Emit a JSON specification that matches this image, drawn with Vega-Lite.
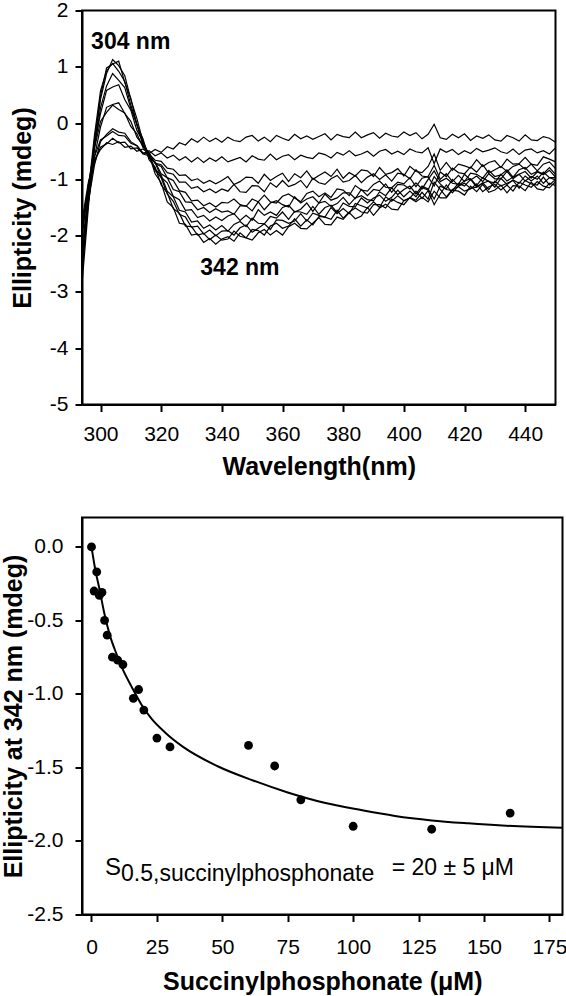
{
"$schema": "https://vega.github.io/schema/vega-lite/v6.json",
"background": "white",
"padding": {"left": 0, "top": -1.5, "right": 0, "bottom": 0},
"columns": 1,
"align": "each",
"spacing": 36,
"datasets": {
"spectra": [
{"s":"A","w":292,"e":-2.4},{"s":"A","w":294,"e":-1.7},{"s":"A","w":296,"e":-1.05},{"s":"A","w":298,"e":-0.65},{"s":"A","w":300,"e":-0.47},{"s":"A","w":302,"e":-0.35},{"s":"A","w":304,"e":-0.38},{"s":"A","w":306,"e":-0.33},{"s":"A","w":308,"e":-0.43},{"s":"A","w":310,"e":-0.41},{"s":"A","w":312,"e":-0.5},{"s":"A","w":314,"e":-0.46},{"s":"A","w":316,"e":-0.54},{"s":"A","w":318,"e":-0.47},{"s":"A","w":320,"e":-0.52},{"s":"A","w":322,"e":-0.42},{"s":"A","w":324,"e":-0.46},{"s":"A","w":326,"e":-0.35},{"s":"A","w":328,"e":-0.39},{"s":"A","w":330,"e":-0.28},{"s":"A","w":332,"e":-0.34},{"s":"A","w":334,"e":-0.25},{"s":"A","w":336,"e":-0.33},{"s":"A","w":338,"e":-0.27},{"s":"A","w":340,"e":-0.34},
{"s":"A","w":342,"e":-0.25},{"s":"A","w":344,"e":-0.31},{"s":"A","w":346,"e":-0.33},{"s":"A","w":348,"e":-0.25},{"s":"A","w":350,"e":-0.22},{"s":"A","w":352,"e":-0.32},{"s":"A","w":354,"e":-0.25},{"s":"A","w":356,"e":-0.33},{"s":"A","w":358,"e":-0.22},{"s":"A","w":360,"e":-0.27},{"s":"A","w":362,"e":-0.31},{"s":"A","w":364,"e":-0.2},{"s":"A","w":366,"e":-0.28},{"s":"A","w":368,"e":-0.23},{"s":"A","w":370,"e":-0.29},{"s":"A","w":372,"e":-0.24},{"s":"A","w":374,"e":-0.19},{"s":"A","w":376,"e":-0.3},{"s":"A","w":378,"e":-0.2},{"s":"A","w":380,"e":-0.24},{"s":"A","w":382,"e":-0.26},{"s":"A","w":384,"e":-0.16},{"s":"A","w":386,"e":-0.26},{"s":"A","w":388,"e":-0.21},{"s":"A","w":390,"e":-0.17},{"s":"A","w":392,"e":-0.27},{"s":"A","w":394,"e":-0.18},{"s":"A","w":396,"e":-0.23},{"s":"A","w":398,"e":-0.25},{"s":"A","w":400,"e":-0.16},{"s":"A","w":402,"e":-0.22},{"s":"A","w":404,"e":-0.17},{"s":"A","w":406,"e":-0.28},{"s":"A","w":408,"e":-0.2},{"s":"A","w":410,"e":-0.02},{"s":"A","w":412,"e":-0.26},{"s":"A","w":414,"e":-0.29},{"s":"A","w":416,"e":-0.2},{"s":"A","w":418,"e":-0.26},{"s":"A","w":420,"e":-0.19},{"s":"A","w":422,"e":-0.31},{"s":"A","w":424,"e":-0.23},{"s":"A","w":426,"e":-0.27},{"s":"A","w":428,"e":-0.21},{"s":"A","w":430,"e":-0.3},{"s":"A","w":432,"e":-0.32},{"s":"A","w":434,"e":-0.22},{"s":"A","w":436,"e":-0.26},{"s":"A","w":438,"e":-0.32},{"s":"A","w":440,"e":-0.21},{"s":"A","w":442,"e":-0.3},{"s":"A","w":444,"e":-0.31},{"s":"A","w":446,"e":-0.24},{"s":"A","w":448,"e":-0.27},{"s":"A","w":450,"e":-0.34},
{"s":"B","w":292,"e":-2.8},{"s":"B","w":294,"e":-1.9},{"s":"B","w":296,"e":-1.15},{"s":"B","w":298,"e":-0.7},{"s":"B","w":300,"e":-0.43},{"s":"B","w":302,"e":-0.37},{"s":"B","w":304,"e":-0.27},{"s":"B","w":306,"e":-0.35},{"s":"B","w":308,"e":-0.34},{"s":"B","w":310,"e":-0.46},{"s":"B","w":312,"e":-0.44},{"s":"B","w":314,"e":-0.54},{"s":"B","w":316,"e":-0.49},{"s":"B","w":318,"e":-0.58},{"s":"B","w":320,"e":-0.53},{"s":"B","w":322,"e":-0.62},{"s":"B","w":324,"e":-0.57},{"s":"B","w":326,"e":-0.66},{"s":"B","w":328,"e":-0.6},{"s":"B","w":330,"e":-0.69},{"s":"B","w":332,"e":-0.61},{"s":"B","w":334,"e":-0.7},{"s":"B","w":336,"e":-0.62},{"s":"B","w":338,"e":-0.68},{"s":"B","w":340,"e":-0.6},
{"s":"B","w":342,"e":-0.69},{"s":"B","w":344,"e":-0.65},{"s":"B","w":346,"e":-0.61},{"s":"B","w":348,"e":-0.69},{"s":"B","w":350,"e":-0.58},{"s":"B","w":352,"e":-0.64},{"s":"B","w":354,"e":-0.66},{"s":"B","w":356,"e":-0.55},{"s":"B","w":358,"e":-0.65},{"s":"B","w":360,"e":-0.59},{"s":"B","w":362,"e":-0.56},{"s":"B","w":364,"e":-0.65},{"s":"B","w":366,"e":-0.57},{"s":"B","w":368,"e":-0.61},{"s":"B","w":370,"e":-0.63},{"s":"B","w":372,"e":-0.53},{"s":"B","w":374,"e":-0.56},{"s":"B","w":376,"e":-0.62},{"s":"B","w":378,"e":-0.52},{"s":"B","w":380,"e":-0.57},{"s":"B","w":382,"e":-0.49},{"s":"B","w":384,"e":-0.58},{"s":"B","w":386,"e":-0.55},{"s":"B","w":388,"e":-0.5},{"s":"B","w":390,"e":-0.59},{"s":"B","w":392,"e":-0.5},{"s":"B","w":394,"e":-0.47},{"s":"B","w":396,"e":-0.55},{"s":"B","w":398,"e":-0.5},{"s":"B","w":400,"e":-0.56},{"s":"B","w":402,"e":-0.46},{"s":"B","w":404,"e":-0.51},{"s":"B","w":406,"e":-0.53},{"s":"B","w":408,"e":-0.44},{"s":"B","w":410,"e":-0.72},{"s":"B","w":412,"e":-0.46},{"s":"B","w":414,"e":-0.52},{"s":"B","w":416,"e":-0.47},{"s":"B","w":418,"e":-0.56},{"s":"B","w":420,"e":-0.49},{"s":"B","w":422,"e":-0.54},{"s":"B","w":424,"e":-0.45},{"s":"B","w":426,"e":-0.51},{"s":"B","w":428,"e":-0.48},{"s":"B","w":430,"e":-0.44},{"s":"B","w":432,"e":-0.51},{"s":"B","w":434,"e":-0.54},{"s":"B","w":436,"e":-0.46},{"s":"B","w":438,"e":-0.56},{"s":"B","w":440,"e":-0.48},{"s":"B","w":442,"e":-0.46},{"s":"B","w":444,"e":-0.53},{"s":"B","w":446,"e":-0.49},{"s":"B","w":448,"e":-0.55},{"s":"B","w":450,"e":-0.44},
{"s":"C","w":292,"e":-2.6},{"s":"C","w":294,"e":-1.8},{"s":"C","w":296,"e":-1.1},{"s":"C","w":298,"e":-0.6},{"s":"C","w":300,"e":-0.3},{"s":"C","w":302,"e":-0.23},{"s":"C","w":304,"e":-0.15},{"s":"C","w":306,"e":-0.22},{"s":"C","w":308,"e":-0.23},{"s":"C","w":310,"e":-0.36},{"s":"C","w":312,"e":-0.4},{"s":"C","w":314,"e":-0.53},{"s":"C","w":316,"e":-0.55},{"s":"C","w":318,"e":-0.66},{"s":"C","w":320,"e":-0.68},{"s":"C","w":322,"e":-0.8},{"s":"C","w":324,"e":-0.82},{"s":"C","w":326,"e":-0.93},{"s":"C","w":328,"e":-0.92},{"s":"C","w":330,"e":-1.02},{"s":"C","w":332,"e":-0.99},{"s":"C","w":334,"e":-1.07},{"s":"C","w":336,"e":-1.02},{"s":"C","w":338,"e":-1.08},{"s":"C","w":340,"e":-1.02},
{"s":"C","w":342,"e":-0.95},{"s":"C","w":344,"e":-1.09},{"s":"C","w":346,"e":-1.04},{"s":"C","w":348,"e":-0.96},{"s":"C","w":350,"e":-0.97},{"s":"C","w":352,"e":-1.07},{"s":"C","w":354,"e":-0.91},{"s":"C","w":356,"e":-1.02},{"s":"C","w":358,"e":-0.95},{"s":"C","w":360,"e":-0.89},{"s":"C","w":362,"e":-1.04},{"s":"C","w":364,"e":-0.9},{"s":"C","w":366,"e":-0.97},{"s":"C","w":368,"e":-0.85},{"s":"C","w":370,"e":-1.0},{"s":"C","w":372,"e":-0.93},{"s":"C","w":374,"e":-0.87},{"s":"C","w":376,"e":-0.95},{"s":"C","w":378,"e":-0.82},{"s":"C","w":380,"e":-0.98},{"s":"C","w":382,"e":-0.88},{"s":"C","w":384,"e":-0.94},{"s":"C","w":386,"e":-0.83},{"s":"C","w":388,"e":-0.85},{"s":"C","w":390,"e":-0.95},{"s":"C","w":392,"e":-0.79},{"s":"C","w":394,"e":-0.91},{"s":"C","w":396,"e":-0.88},{"s":"C","w":398,"e":-0.81},{"s":"C","w":400,"e":-0.94},{"s":"C","w":402,"e":-0.77},{"s":"C","w":404,"e":-0.86},{"s":"C","w":406,"e":-0.88},{"s":"C","w":408,"e":-0.77},{"s":"C","w":410,"e":-0.55},{"s":"C","w":412,"e":-0.84},{"s":"C","w":414,"e":-0.7},{"s":"C","w":416,"e":-0.84},{"s":"C","w":418,"e":-0.73},{"s":"C","w":420,"e":-0.76},{"s":"C","w":422,"e":-0.8},{"s":"C","w":424,"e":-0.65},{"s":"C","w":426,"e":-0.77},{"s":"C","w":428,"e":-0.7},{"s":"C","w":430,"e":-0.67},{"s":"C","w":432,"e":-0.79},{"s":"C","w":434,"e":-0.64},{"s":"C","w":436,"e":-0.73},{"s":"C","w":438,"e":-0.72},{"s":"C","w":440,"e":-0.61},{"s":"C","w":442,"e":-0.73},{"s":"C","w":444,"e":-0.75},{"s":"C","w":446,"e":-0.6},{"s":"C","w":448,"e":-0.64},{"s":"C","w":450,"e":-0.69},
{"s":"D","w":292,"e":-3.3},{"s":"D","w":294,"e":-2.3},{"s":"D","w":296,"e":-1.4},{"s":"D","w":298,"e":-0.75},{"s":"D","w":300,"e":-0.33},{"s":"D","w":302,"e":-0.2},{"s":"D","w":304,"e":-0.1},{"s":"D","w":306,"e":-0.16},{"s":"D","w":308,"e":-0.18},{"s":"D","w":310,"e":-0.33},{"s":"D","w":312,"e":-0.4},{"s":"D","w":314,"e":-0.55},{"s":"D","w":316,"e":-0.58},{"s":"D","w":318,"e":-0.71},{"s":"D","w":320,"e":-0.74},{"s":"D","w":322,"e":-0.88},{"s":"D","w":324,"e":-0.91},{"s":"D","w":326,"e":-1.05},{"s":"D","w":328,"e":-1.05},{"s":"D","w":330,"e":-1.16},{"s":"D","w":332,"e":-1.13},{"s":"D","w":334,"e":-1.22},{"s":"D","w":336,"e":-1.17},{"s":"D","w":338,"e":-1.24},{"s":"D","w":340,"e":-1.17},
{"s":"D","w":342,"e":-1.21},{"s":"D","w":344,"e":-1.09},{"s":"D","w":346,"e":-1.22},{"s":"D","w":348,"e":-1.23},{"s":"D","w":350,"e":-1.11},{"s":"D","w":352,"e":-1.12},{"s":"D","w":354,"e":-1.22},{"s":"D","w":356,"e":-1.06},{"s":"D","w":358,"e":-1.14},{"s":"D","w":360,"e":-1.02},{"s":"D","w":362,"e":-1.13},{"s":"D","w":364,"e":-1.09},{"s":"D","w":366,"e":-1.02},{"s":"D","w":368,"e":-1.15},{"s":"D","w":370,"e":-0.98},{"s":"D","w":372,"e":-1.06},{"s":"D","w":374,"e":-1.09},{"s":"D","w":376,"e":-0.99},{"s":"D","w":378,"e":-0.93},{"s":"D","w":380,"e":-1.05},{"s":"D","w":382,"e":-1.02},{"s":"D","w":384,"e":-0.93},{"s":"D","w":386,"e":-1.06},{"s":"D","w":388,"e":-0.96},{"s":"D","w":390,"e":-0.9},{"s":"D","w":392,"e":-1.0},{"s":"D","w":394,"e":-0.92},{"s":"D","w":396,"e":-1.03},{"s":"D","w":398,"e":-0.89},{"s":"D","w":400,"e":-0.91},{"s":"D","w":402,"e":-0.99},{"s":"D","w":404,"e":-0.83},{"s":"D","w":406,"e":-0.94},{"s":"D","w":408,"e":-0.96},{"s":"D","w":410,"e":-1.12},{"s":"D","w":412,"e":-0.87},{"s":"D","w":414,"e":-0.95},{"s":"D","w":416,"e":-0.8},{"s":"D","w":418,"e":-0.88},{"s":"D","w":420,"e":-0.9},{"s":"D","w":422,"e":-0.78},{"s":"D","w":424,"e":-0.87},{"s":"D","w":426,"e":-0.74},{"s":"D","w":428,"e":-0.89},{"s":"D","w":430,"e":-0.83},{"s":"D","w":432,"e":-0.77},{"s":"D","w":434,"e":-0.86},{"s":"D","w":436,"e":-0.77},{"s":"D","w":438,"e":-0.73},{"s":"D","w":440,"e":-0.82},{"s":"D","w":442,"e":-0.73},{"s":"D","w":444,"e":-0.85},{"s":"D","w":446,"e":-0.73},{"s":"D","w":448,"e":-0.69},{"s":"D","w":450,"e":-0.81},
{"s":"E","w":292,"e":-2.9},{"s":"E","w":294,"e":-2.0},{"s":"E","w":296,"e":-1.1},{"s":"E","w":298,"e":-0.45},{"s":"E","w":300,"e":0.03},{"s":"E","w":302,"e":0.19},{"s":"E","w":304,"e":0.32},{"s":"E","w":306,"e":0.24},{"s":"E","w":308,"e":0.18},{"s":"E","w":310,"e":-0.06},{"s":"E","w":312,"e":-0.19},{"s":"E","w":314,"e":-0.43},{"s":"E","w":316,"e":-0.52},{"s":"E","w":318,"e":-0.72},{"s":"E","w":320,"e":-0.77},{"s":"E","w":322,"e":-0.97},{"s":"E","w":324,"e":-1.02},{"s":"E","w":326,"e":-1.2},{"s":"E","w":328,"e":-1.23},{"s":"E","w":330,"e":-1.38},{"s":"E","w":332,"e":-1.37},{"s":"E","w":334,"e":-1.47},{"s":"E","w":336,"e":-1.42},{"s":"E","w":338,"e":-1.49},{"s":"E","w":340,"e":-1.41},
{"s":"E","w":342,"e":-1.42},{"s":"E","w":344,"e":-1.35},{"s":"E","w":346,"e":-1.45},{"s":"E","w":348,"e":-1.48},{"s":"E","w":350,"e":-1.35},{"s":"E","w":352,"e":-1.4},{"s":"E","w":354,"e":-1.28},{"s":"E","w":356,"e":-1.4},{"s":"E","w":358,"e":-1.42},{"s":"E","w":360,"e":-1.3},{"s":"E","w":362,"e":-1.26},{"s":"E","w":364,"e":-1.33},{"s":"E","w":366,"e":-1.4},{"s":"E","w":368,"e":-1.25},{"s":"E","w":370,"e":-1.21},{"s":"E","w":372,"e":-1.31},{"s":"E","w":374,"e":-1.24},{"s":"E","w":376,"e":-1.32},{"s":"E","w":378,"e":-1.17},{"s":"E","w":380,"e":-1.19},{"s":"E","w":382,"e":-1.29},{"s":"E","w":384,"e":-1.11},{"s":"E","w":386,"e":-1.19},{"s":"E","w":388,"e":-1.21},{"s":"E","w":390,"e":-1.09},{"s":"E","w":392,"e":-1.03},{"s":"E","w":394,"e":-1.14},{"s":"E","w":396,"e":-1.15},{"s":"E","w":398,"e":-1.05},{"s":"E","w":400,"e":-1.08},{"s":"E","w":402,"e":-0.97},{"s":"E","w":404,"e":-1.13},{"s":"E","w":406,"e":-0.98},{"s":"E","w":408,"e":-0.95},{"s":"E","w":410,"e":-0.75},{"s":"E","w":412,"e":-1.0},{"s":"E","w":414,"e":-0.9},{"s":"E","w":416,"e":-1.04},{"s":"E","w":418,"e":-0.93},{"s":"E","w":420,"e":-1.04},{"s":"E","w":422,"e":-0.89},{"s":"E","w":424,"e":-0.91},{"s":"E","w":426,"e":-0.98},{"s":"E","w":428,"e":-0.84},{"s":"E","w":430,"e":-0.95},{"s":"E","w":432,"e":-0.92},{"s":"E","w":434,"e":-0.83},{"s":"E","w":436,"e":-0.96},{"s":"E","w":438,"e":-0.83},{"s":"E","w":440,"e":-0.79},{"s":"E","w":442,"e":-0.91},{"s":"E","w":444,"e":-0.86},{"s":"E","w":446,"e":-0.9},{"s":"E","w":448,"e":-0.79},{"s":"E","w":450,"e":-0.91},
{"s":"F","w":292,"e":-3.5},{"s":"F","w":294,"e":-2.4},{"s":"F","w":296,"e":-1.4},{"s":"F","w":298,"e":-0.6},{"s":"F","w":300,"e":-0.07},{"s":"F","w":302,"e":0.28},{"s":"F","w":304,"e":0.33},{"s":"F","w":306,"e":0.36},{"s":"F","w":308,"e":0.17},{"s":"F","w":310,"e":0.03},{"s":"F","w":312,"e":-0.25},{"s":"F","w":314,"e":-0.39},{"s":"F","w":316,"e":-0.62},{"s":"F","w":318,"e":-0.69},{"s":"F","w":320,"e":-0.9},{"s":"F","w":322,"e":-0.97},{"s":"F","w":324,"e":-1.18},{"s":"F","w":326,"e":-1.22},{"s":"F","w":328,"e":-1.4},{"s":"F","w":330,"e":-1.41},{"s":"F","w":332,"e":-1.54},{"s":"F","w":334,"e":-1.5},{"s":"F","w":336,"e":-1.59},{"s":"F","w":338,"e":-1.52},{"s":"F","w":340,"e":-1.58},
{"s":"F","w":342,"e":-1.56},{"s":"F","w":344,"e":-1.62},{"s":"F","w":346,"e":-1.47},{"s":"F","w":348,"e":-1.47},{"s":"F","w":350,"e":-1.56},{"s":"F","w":352,"e":-1.4},{"s":"F","w":354,"e":-1.54},{"s":"F","w":356,"e":-1.42},{"s":"F","w":358,"e":-1.38},{"s":"F","w":360,"e":-1.45},{"s":"F","w":362,"e":-1.49},{"s":"F","w":364,"e":-1.31},{"s":"F","w":366,"e":-1.42},{"s":"F","w":368,"e":-1.35},{"s":"F","w":370,"e":-1.31},{"s":"F","w":372,"e":-1.42},{"s":"F","w":374,"e":-1.26},{"s":"F","w":376,"e":-1.37},{"s":"F","w":378,"e":-1.33},{"s":"F","w":380,"e":-1.24},{"s":"F","w":382,"e":-1.24},{"s":"F","w":384,"e":-1.34},{"s":"F","w":386,"e":-1.18},{"s":"F","w":388,"e":-1.29},{"s":"F","w":390,"e":-1.18},{"s":"F","w":392,"e":-1.2},{"s":"F","w":394,"e":-1.08},{"s":"F","w":396,"e":-1.23},{"s":"F","w":398,"e":-1.09},{"s":"F","w":400,"e":-1.1},{"s":"F","w":402,"e":-1.17},{"s":"F","w":404,"e":-1.06},{"s":"F","w":406,"e":-1.17},{"s":"F","w":408,"e":-1.0},{"s":"F","w":410,"e":-0.85},{"s":"F","w":412,"e":-1.04},{"s":"F","w":414,"e":-0.98},{"s":"F","w":416,"e":-1.07},{"s":"F","w":418,"e":-1.09},{"s":"F","w":420,"e":-0.91},{"s":"F","w":422,"e":-1.01},{"s":"F","w":424,"e":-0.94},{"s":"F","w":426,"e":-1.04},{"s":"F","w":428,"e":-0.9},{"s":"F","w":430,"e":-0.99},{"s":"F","w":432,"e":-0.99},{"s":"F","w":434,"e":-0.86},{"s":"F","w":436,"e":-0.99},{"s":"F","w":438,"e":-0.91},{"s":"F","w":440,"e":-0.86},{"s":"F","w":442,"e":-0.98},{"s":"F","w":444,"e":-0.87},{"s":"F","w":446,"e":-0.92},{"s":"F","w":448,"e":-0.84},{"s":"F","w":450,"e":-0.96},
{"s":"G","w":292,"e":-3.2},{"s":"G","w":294,"e":-2.2},{"s":"G","w":296,"e":-1.2},{"s":"G","w":298,"e":-0.4},{"s":"G","w":300,"e":0.17},{"s":"G","w":302,"e":0.58},{"s":"G","w":304,"e":0.64},{"s":"G","w":306,"e":0.68},{"s":"G","w":308,"e":0.42},{"s":"G","w":310,"e":0.23},{"s":"G","w":312,"e":-0.13},{"s":"G","w":314,"e":-0.32},{"s":"G","w":316,"e":-0.6},{"s":"G","w":318,"e":-0.7},{"s":"G","w":320,"e":-0.96},{"s":"G","w":322,"e":-1.06},{"s":"G","w":324,"e":-1.3},{"s":"G","w":326,"e":-1.36},{"s":"G","w":328,"e":-1.55},{"s":"G","w":330,"e":-1.54},{"s":"G","w":332,"e":-1.68},{"s":"G","w":334,"e":-1.64},{"s":"G","w":336,"e":-1.74},{"s":"G","w":338,"e":-1.67},{"s":"G","w":340,"e":-1.73},
{"s":"G","w":342,"e":-1.65},{"s":"G","w":344,"e":-1.61},{"s":"G","w":346,"e":-1.73},{"s":"G","w":348,"e":-1.64},{"s":"G","w":350,"e":-1.73},{"s":"G","w":352,"e":-1.54},{"s":"G","w":354,"e":-1.64},{"s":"G","w":356,"e":-1.58},{"s":"G","w":358,"e":-1.64},{"s":"G","w":360,"e":-1.5},{"s":"G","w":362,"e":-1.46},{"s":"G","w":364,"e":-1.58},{"s":"G","w":366,"e":-1.53},{"s":"G","w":368,"e":-1.42},{"s":"G","w":370,"e":-1.57},{"s":"G","w":372,"e":-1.42},{"s":"G","w":374,"e":-1.39},{"s":"G","w":376,"e":-1.48},{"s":"G","w":378,"e":-1.43},{"s":"G","w":380,"e":-1.32},{"s":"G","w":382,"e":-1.45},{"s":"G","w":384,"e":-1.33},{"s":"G","w":386,"e":-1.29},{"s":"G","w":388,"e":-1.36},{"s":"G","w":390,"e":-1.38},{"s":"G","w":392,"e":-1.22},{"s":"G","w":394,"e":-1.29},{"s":"G","w":396,"e":-1.15},{"s":"G","w":398,"e":-1.27},{"s":"G","w":400,"e":-1.18},{"s":"G","w":402,"e":-1.12},{"s":"G","w":404,"e":-1.26},{"s":"G","w":406,"e":-1.12},{"s":"G","w":408,"e":-1.17},{"s":"G","w":410,"e":-1.35},{"s":"G","w":412,"e":-1.12},{"s":"G","w":414,"e":-1.17},{"s":"G","w":416,"e":-1.0},{"s":"G","w":418,"e":-1.11},{"s":"G","w":420,"e":-1.03},{"s":"G","w":422,"e":-0.99},{"s":"G","w":424,"e":-1.11},{"s":"G","w":426,"e":-0.97},{"s":"G","w":428,"e":-1.04},{"s":"G","w":430,"e":-1.06},{"s":"G","w":432,"e":-0.91},{"s":"G","w":434,"e":-1.03},{"s":"G","w":436,"e":-0.96},{"s":"G","w":438,"e":-0.91},{"s":"G","w":440,"e":-1.03},{"s":"G","w":442,"e":-0.95},{"s":"G","w":444,"e":-1.0},{"s":"G","w":446,"e":-0.87},{"s":"G","w":448,"e":-0.97},{"s":"G","w":450,"e":-0.97},
{"s":"H","w":292,"e":-3.8},{"s":"H","w":294,"e":-2.6},{"s":"H","w":296,"e":-1.4},{"s":"H","w":298,"e":-0.45},{"s":"H","w":300,"e":0.27},{"s":"H","w":302,"e":0.66},{"s":"H","w":304,"e":0.88},{"s":"H","w":306,"e":0.76},{"s":"H","w":308,"e":0.63},{"s":"H","w":310,"e":0.26},{"s":"H","w":312,"e":-0.02},{"s":"H","w":314,"e":-0.39},{"s":"H","w":316,"e":-0.55},{"s":"H","w":318,"e":-0.82},{"s":"H","w":320,"e":-0.93},{"s":"H","w":322,"e":-1.21},{"s":"H","w":324,"e":-1.31},{"s":"H","w":326,"e":-1.55},{"s":"H","w":328,"e":-1.58},{"s":"H","w":330,"e":-1.76},{"s":"H","w":332,"e":-1.74},{"s":"H","w":334,"e":-1.87},{"s":"H","w":336,"e":-1.81},{"s":"H","w":338,"e":-1.9},{"s":"H","w":340,"e":-1.82},
{"s":"H","w":342,"e":-1.92},{"s":"H","w":344,"e":-1.8},{"s":"H","w":346,"e":-1.75},{"s":"H","w":348,"e":-1.84},{"s":"H","w":350,"e":-1.69},{"s":"H","w":352,"e":-1.78},{"s":"H","w":354,"e":-1.79},{"s":"H","w":356,"e":-1.66},{"s":"H","w":358,"e":-1.69},{"s":"H","w":360,"e":-1.58},{"s":"H","w":362,"e":-1.71},{"s":"H","w":364,"e":-1.57},{"s":"H","w":366,"e":-1.58},{"s":"H","w":368,"e":-1.62},{"s":"H","w":370,"e":-1.48},{"s":"H","w":372,"e":-1.62},{"s":"H","w":374,"e":-1.5},{"s":"H","w":376,"e":-1.46},{"s":"H","w":378,"e":-1.59},{"s":"H","w":380,"e":-1.42},{"s":"H","w":382,"e":-1.48},{"s":"H","w":384,"e":-1.49},{"s":"H","w":386,"e":-1.33},{"s":"H","w":388,"e":-1.42},{"s":"H","w":390,"e":-1.33},{"s":"H","w":392,"e":-1.28},{"s":"H","w":394,"e":-1.39},{"s":"H","w":396,"e":-1.32},{"s":"H","w":398,"e":-1.19},{"s":"H","w":400,"e":-1.31},{"s":"H","w":402,"e":-1.21},{"s":"H","w":404,"e":-1.31},{"s":"H","w":406,"e":-1.15},{"s":"H","w":408,"e":-1.19},{"s":"H","w":410,"e":-0.95},{"s":"H","w":412,"e":-1.08},{"s":"H","w":414,"e":-1.18},{"s":"H","w":416,"e":-1.2},{"s":"H","w":418,"e":-1.07},{"s":"H","w":420,"e":-1.12},{"s":"H","w":422,"e":-1.0},{"s":"H","w":424,"e":-1.14},{"s":"H","w":426,"e":-1.07},{"s":"H","w":428,"e":-1.03},{"s":"H","w":430,"e":-1.14},{"s":"H","w":432,"e":-0.98},{"s":"H","w":434,"e":-1.09},{"s":"H","w":436,"e":-1.01},{"s":"H","w":438,"e":-1.07},{"s":"H","w":440,"e":-0.94},{"s":"H","w":442,"e":-1.03},{"s":"H","w":444,"e":-0.94},{"s":"H","w":446,"e":-1.07},{"s":"H","w":448,"e":-0.97},{"s":"H","w":450,"e":-1.01},
{"s":"I","w":292,"e":-3.4},{"s":"I","w":294,"e":-2.4},{"s":"I","w":296,"e":-1.2},{"s":"I","w":298,"e":-0.22},{"s":"I","w":300,"e":0.57},{"s":"I","w":302,"e":0.93},{"s":"I","w":304,"e":1.06},{"s":"I","w":306,"e":0.92},{"s":"I","w":308,"e":0.74},{"s":"I","w":310,"e":0.32},{"s":"I","w":312,"e":-0.02},{"s":"I","w":314,"e":-0.38},{"s":"I","w":316,"e":-0.57},{"s":"I","w":318,"e":-0.84},{"s":"I","w":320,"e":-0.97},{"s":"I","w":322,"e":-1.26},{"s":"I","w":324,"e":-1.39},{"s":"I","w":326,"e":-1.62},{"s":"I","w":328,"e":-1.67},{"s":"I","w":330,"e":-1.85},{"s":"I","w":332,"e":-1.83},{"s":"I","w":334,"e":-1.97},{"s":"I","w":336,"e":-1.9},{"s":"I","w":338,"e":-2.0},{"s":"I","w":340,"e":-1.92},
{"s":"I","w":342,"e":-1.91},{"s":"I","w":344,"e":-1.99},{"s":"I","w":346,"e":-1.86},{"s":"I","w":348,"e":-1.81},{"s":"I","w":350,"e":-1.94},{"s":"I","w":352,"e":-1.87},{"s":"I","w":354,"e":-1.79},{"s":"I","w":356,"e":-1.89},{"s":"I","w":358,"e":-1.72},{"s":"I","w":360,"e":-1.73},{"s":"I","w":362,"e":-1.78},{"s":"I","w":364,"e":-1.74},{"s":"I","w":366,"e":-1.61},{"s":"I","w":368,"e":-1.74},{"s":"I","w":370,"e":-1.6},{"s":"I","w":372,"e":-1.64},{"s":"I","w":374,"e":-1.67},{"s":"I","w":376,"e":-1.5},{"s":"I","w":378,"e":-1.61},{"s":"I","w":380,"e":-1.52},{"s":"I","w":382,"e":-1.61},{"s":"I","w":384,"e":-1.43},{"s":"I","w":386,"e":-1.47},{"s":"I","w":388,"e":-1.51},{"s":"I","w":390,"e":-1.4},{"s":"I","w":392,"e":-1.5},{"s":"I","w":394,"e":-1.31},{"s":"I","w":396,"e":-1.39},{"s":"I","w":398,"e":-1.29},{"s":"I","w":400,"e":-1.38},{"s":"I","w":402,"e":-1.33},{"s":"I","w":404,"e":-1.21},{"s":"I","w":406,"e":-1.34},{"s":"I","w":408,"e":-1.2},{"s":"I","w":410,"e":-1.45},{"s":"I","w":412,"e":-1.26},{"s":"I","w":414,"e":-1.1},{"s":"I","w":416,"e":-1.24},{"s":"I","w":418,"e":-1.12},{"s":"I","w":420,"e":-1.07},{"s":"I","w":422,"e":-1.16},{"s":"I","w":424,"e":-1.14},{"s":"I","w":426,"e":-1.06},{"s":"I","w":428,"e":-1.18},{"s":"I","w":430,"e":-1.03},{"s":"I","w":432,"e":-1.12},{"s":"I","w":434,"e":-1.07},{"s":"I","w":436,"e":-1.02},{"s":"I","w":438,"e":-1.16},{"s":"I","w":440,"e":-1.02},{"s":"I","w":442,"e":-1.08},{"s":"I","w":444,"e":-1.1},{"s":"I","w":446,"e":-0.96},{"s":"I","w":448,"e":-1.1},{"s":"I","w":450,"e":-1.0},
{"s":"J","w":292,"e":-3.7},{"s":"J","w":294,"e":-2.6},{"s":"J","w":296,"e":-1.3},{"s":"J","w":298,"e":-0.3},{"s":"J","w":300,"e":0.48},{"s":"J","w":302,"e":0.98},{"s":"J","w":304,"e":1.05},{"s":"J","w":306,"e":1.1},{"s":"J","w":308,"e":0.72},{"s":"J","w":310,"e":0.44},{"s":"J","w":312,"e":-0.04},{"s":"J","w":314,"e":-0.28},{"s":"J","w":316,"e":-0.65},{"s":"J","w":318,"e":-0.78},{"s":"J","w":320,"e":-1.1},{"s":"J","w":322,"e":-1.24},{"s":"J","w":324,"e":-1.52},{"s":"J","w":326,"e":-1.6},{"s":"J","w":328,"e":-1.83},{"s":"J","w":330,"e":-1.84},{"s":"J","w":332,"e":-1.99},{"s":"J","w":334,"e":-1.96},{"s":"J","w":336,"e":-2.07},{"s":"J","w":338,"e":-1.99},{"s":"J","w":340,"e":-2.08},
{"s":"J","w":342,"e":-2.06},{"s":"J","w":344,"e":-1.92},{"s":"J","w":346,"e":-2.01},{"s":"J","w":348,"e":-2.04},{"s":"J","w":350,"e":-1.89},{"s":"J","w":352,"e":-1.91},{"s":"J","w":354,"e":-1.99},{"s":"J","w":356,"e":-1.83},{"s":"J","w":358,"e":-1.78},{"s":"J","w":360,"e":-1.87},{"s":"J","w":362,"e":-1.83},{"s":"J","w":364,"e":-1.7},{"s":"J","w":366,"e":-1.83},{"s":"J","w":368,"e":-1.72},{"s":"J","w":370,"e":-1.81},{"s":"J","w":372,"e":-1.66},{"s":"J","w":374,"e":-1.67},{"s":"J","w":376,"e":-1.71},{"s":"J","w":378,"e":-1.55},{"s":"J","w":380,"e":-1.69},{"s":"J","w":382,"e":-1.58},{"s":"J","w":384,"e":-1.51},{"s":"J","w":386,"e":-1.58},{"s":"J","w":388,"e":-1.6},{"s":"J","w":390,"e":-1.45},{"s":"J","w":392,"e":-1.45},{"s":"J","w":394,"e":-1.51},{"s":"J","w":396,"e":-1.35},{"s":"J","w":398,"e":-1.41},{"s":"J","w":400,"e":-1.45},{"s":"J","w":402,"e":-1.32},{"s":"J","w":404,"e":-1.37},{"s":"J","w":406,"e":-1.23},{"s":"J","w":408,"e":-1.35},{"s":"J","w":410,"e":-1.05},{"s":"J","w":412,"e":-1.18},{"s":"J","w":414,"e":-1.31},{"s":"J","w":416,"e":-1.18},{"s":"J","w":418,"e":-1.13},{"s":"J","w":420,"e":-1.21},{"s":"J","w":422,"e":-1.17},{"s":"J","w":424,"e":-1.08},{"s":"J","w":426,"e":-1.22},{"s":"J","w":428,"e":-1.13},{"s":"J","w":430,"e":-1.09},{"s":"J","w":432,"e":-1.19},{"s":"J","w":434,"e":-1.1},{"s":"J","w":436,"e":-1.21},{"s":"J","w":438,"e":-1.05},{"s":"J","w":440,"e":-1.1},{"s":"J","w":442,"e":-1.14},{"s":"J","w":444,"e":-1.04},{"s":"J","w":446,"e":-1.12},{"s":"J","w":448,"e":-1.15},{"s":"J","w":450,"e":-1.04},
{"s":"K","w":292,"e":-4.0},{"s":"K","w":294,"e":-2.8},{"s":"K","w":296,"e":-1.5},{"s":"K","w":298,"e":-0.4},{"s":"K","w":300,"e":0.42},{"s":"K","w":302,"e":0.88},{"s":"K","w":304,"e":1.13},{"s":"K","w":306,"e":1.02},{"s":"K","w":308,"e":0.84},{"s":"K","w":310,"e":0.42},{"s":"K","w":312,"e":0.08},{"s":"K","w":314,"e":-0.33},{"s":"K","w":316,"e":-0.56},{"s":"K","w":318,"e":-0.9},{"s":"K","w":320,"e":-1.06},{"s":"K","w":322,"e":-1.4},{"s":"K","w":324,"e":-1.5},{"s":"K","w":326,"e":-1.78},{"s":"K","w":328,"e":-1.8},{"s":"K","w":330,"e":-1.99},{"s":"K","w":332,"e":-1.97},{"s":"K","w":334,"e":-2.12},{"s":"K","w":336,"e":-2.05},{"s":"K","w":338,"e":-2.15},{"s":"K","w":340,"e":-2.06},
{"s":"K","w":342,"e":-2.02},{"s":"K","w":344,"e":-2.1},{"s":"K","w":346,"e":-1.95},{"s":"K","w":348,"e":-2.04},{"s":"K","w":350,"e":-2.08},{"s":"K","w":352,"e":-1.95},{"s":"K","w":354,"e":-1.89},{"s":"K","w":356,"e":-1.99},{"s":"K","w":358,"e":-1.91},{"s":"K","w":360,"e":-1.99},{"s":"K","w":362,"e":-1.84},{"s":"K","w":364,"e":-1.78},{"s":"K","w":366,"e":-1.87},{"s":"K","w":368,"e":-1.88},{"s":"K","w":370,"e":-1.78},{"s":"K","w":372,"e":-1.68},{"s":"K","w":374,"e":-1.8},{"s":"K","w":376,"e":-1.81},{"s":"K","w":378,"e":-1.67},{"s":"K","w":380,"e":-1.71},{"s":"K","w":382,"e":-1.59},{"s":"K","w":384,"e":-1.7},{"s":"K","w":386,"e":-1.65},{"s":"K","w":388,"e":-1.5},{"s":"K","w":390,"e":-1.64},{"s":"K","w":392,"e":-1.51},{"s":"K","w":394,"e":-1.44},{"s":"K","w":396,"e":-1.53},{"s":"K","w":398,"e":-1.54},{"s":"K","w":400,"e":-1.38},{"s":"K","w":402,"e":-1.33},{"s":"K","w":404,"e":-1.4},{"s":"K","w":406,"e":-1.32},{"s":"K","w":408,"e":-1.4},{"s":"K","w":410,"e":-1.21},{"s":"K","w":412,"e":-1.33},{"s":"K","w":414,"e":-1.33},{"s":"K","w":416,"e":-1.19},{"s":"K","w":418,"e":-1.21},{"s":"K","w":420,"e":-1.28},{"s":"K","w":422,"e":-1.12},{"s":"K","w":424,"e":-1.22},{"s":"K","w":426,"e":-1.09},{"s":"K","w":428,"e":-1.23},{"s":"K","w":430,"e":-1.19},{"s":"K","w":432,"e":-1.1},{"s":"K","w":434,"e":-1.24},{"s":"K","w":436,"e":-1.11},{"s":"K","w":438,"e":-1.12},{"s":"K","w":440,"e":-1.2},{"s":"K","w":442,"e":-1.05},{"s":"K","w":444,"e":-1.17},{"s":"K","w":446,"e":-1.19},{"s":"K","w":448,"e":-1.07},{"s":"K","w":450,"e":-1.11}
],
"titration": [
{"c":0,"e":0.0},{"c":1,"e":-0.3},{"c":2,"e":-0.17},{"c":3,"e":-0.33},{"c":4,"e":-0.31},{"c":5,"e":-0.5},{"c":6,"e":-0.6},{"c":8,"e":-0.75},{"c":10,"e":-0.77},{"c":12,"e":-0.8},{"c":16,"e":-1.03},{"c":18,"e":-0.97},{"c":20,"e":-1.11},{"c":25,"e":-1.3},{"c":30,"e":-1.36},{"c":60,"e":-1.35},{"c":70,"e":-1.49},{"c":80,"e":-1.72},{"c":100,"e":-1.9},{"c":130,"e":-1.92},{"c":160,"e":-1.81}
],
"fit": [
{"c":0,"e":0.0},{"c":1.3,"e":-0.14},{"c":3.2,"e":-0.3},{"c":5,"e":-0.46},{"c":7,"e":-0.6},{"c":9.6,"e":-0.73},{"c":12,"e":-0.835},{"c":15.3,"e":-0.95},{"c":19,"e":-1.07},{"c":23,"e":-1.17},{"c":28,"e":-1.26},{"c":35,"e":-1.36},{"c":48,"e":-1.49},{"c":62,"e":-1.59},{"c":75,"e":-1.67},{"c":89,"e":-1.74},{"c":103,"e":-1.79},{"c":116,"e":-1.83},{"c":130,"e":-1.86},{"c":144,"e":-1.88},{"c":157,"e":-1.895},{"c":180,"e":-1.91}
]
},
"concat": [
{
"width": 473.5,
"height": 394,
"layer": [
{
"data": {"name": "spectra"},
"mark": {"type": "line", "color": "black", "strokeWidth": 1.2, "clip": true},
"encoding": {
"x": {"field": "w", "type": "quantitative", "scale": {"domain": [293.9, 450], "nice": false, "zero": false},
"axis": {"title": "Wavelength(nm)", "values": [300, 320, 340, 360, 380, 400, 420, 440], "labelPadding": 12, "titlePadding": 10}},
"y": {"field": "e", "type": "quantitative", "scale": {"domain": [-5, 2], "nice": false, "zero": false},
"axis": {"title": "Ellipticity (mdeg)", "values": [-5, -4, -3, -2, -1, 0, 1, 2], "format": "d", "labelExpr": "replace(datum.label, '\u2212', '-')", "labelPadding": 7, "titlePadding": 14}},
"detail": {"field": "s", "type": "nominal"}
}
},
{
"data": {"values": [{}]},
"mark": {"type": "text", "text": "304 nm", "font": "Liberation Sans", "fontSize": 23, "fontWeight": "bold", "align": "left", "baseline": "alphabetic", "color": "black"},
"encoding": {"x": {"datum": 296.9, "type": "quantitative"}, "y": {"datum": 1.31, "type": "quantitative"}}
},
{
"data": {"values": [{}]},
"mark": {"type": "text", "text": "342 nm", "font": "Liberation Sans", "fontSize": 23, "fontWeight": "bold", "align": "left", "baseline": "alphabetic", "color": "black"},
"encoding": {"x": {"datum": 332.9, "type": "quantitative"}, "y": {"datum": -2.7, "type": "quantitative"}}
}
]
},
{
"width": 480.5,
"height": 397,
"layer": [
{
"data": {"name": "fit"},
"mark": {"type": "line", "color": "black", "strokeWidth": 2, "interpolate": "monotone", "clip": true},
"encoding": {
"x": {"field": "c", "type": "quantitative", "scale": {"domain": [-3.63, 180], "nice": false, "zero": false},
"axis": {"title": "Succinylphosphonate (μM)", "values": [0, 25, 50, 75, 100, 125, 150, 175], "labelPadding": 15, "titlePadding": 12}},
"y": {"field": "e", "type": "quantitative", "scale": {"domain": [-2.5, 0.2], "nice": false, "zero": false},
"axis": {"title": "Ellipticity at 342 nm (mdeg)", "values": [-2.5, -2.0, -1.5, -1.0, -0.5, 0.0], "format": ".1f", "labelExpr": "replace(datum.label, '\u2212', '-')", "labelPadding": 12, "titlePadding": 0}}
}
},
{
"data": {"name": "titration"},
"mark": {"type": "circle", "color": "black", "opacity": 1, "size": 78},
"encoding": {
"x": {"field": "c", "type": "quantitative"},
"y": {"field": "e", "type": "quantitative"}
}
},
{
"data": {"values": [{}]},
"mark": {"type": "text", "text": "S", "font": "Liberation Sans", "fontSize": 24, "align": "left", "baseline": "alphabetic", "color": "black"},
"encoding": {"x": {"datum": 5.2, "type": "quantitative"}, "y": {"datum": -2.228, "type": "quantitative"}}
},
{
"data": {"values": [{}]},
"mark": {"type": "text", "text": "0.5,succinylphosphonate", "font": "Liberation Sans", "fontSize": 23, "align": "left", "baseline": "alphabetic", "color": "black"},
"encoding": {"x": {"datum": 11.3, "type": "quantitative"}, "y": {"datum": -2.269, "type": "quantitative"}}
},
{
"data": {"values": [{}]},
"mark": {"type": "text", "text": "= 20 ± 5 μM", "font": "Liberation Sans", "fontSize": 23, "align": "left", "baseline": "alphabetic", "color": "black"},
"encoding": {"x": {"datum": 114.7, "type": "quantitative"}, "y": {"datum": -2.228, "type": "quantitative"}}
}
]
}
],
"config": {
"font": "Liberation Sans",
"view": {"stroke": "black", "strokeWidth": 2},
"axis": {
"grid": false,
"domainColor": "black",
"domainWidth": 2,
"tickColor": "black",
"tickWidth": 2,
"tickSize": 7,
"labelFont": "Liberation Sans",
"labelFontSize": 21,
"labelColor": "black",
"labelFlush": false,
"labelOverlap": false,
"titleFont": "Liberation Sans",
"titleFontSize": 25,
"titleFontWeight": "bold",
"titleColor": "black"
}
}
}
